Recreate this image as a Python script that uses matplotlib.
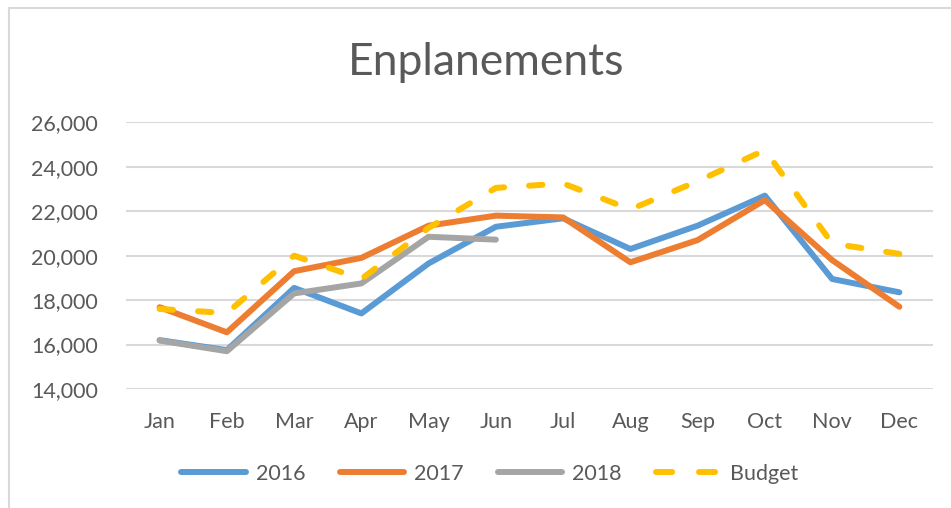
import matplotlib
matplotlib.use("Agg")
import matplotlib.pyplot as plt
import numpy as np
from matplotlib.lines import Line2D
from matplotlib.patches import Rectangle
from matplotlib.ticker import FuncFormatter

months = ["Jan", "Feb", "Mar", "Apr", "May", "Jun", "Jul", "Aug", "Sep", "Oct", "Nov", "Dec"]
s2016 = [16200, 15750, 18550, 17400, 19650, 21300, 21680, 20300, 21350, 22700, 18950, 18350]
s2017 = [17680, 16550, 19300, 19900, 21350, 21800, 21720, 19700, 20700, 22500, 19800, 17700]
s2018 = [16180, 15700, 18300, 18750, 20850, 20720]
budget = [17600, 17420, 20000, 18950, 21250, 23050, 23250, 22080, 23350, 24750, 20550, 20080]

W, H = 951, 508
DPI = 100
plt.rcParams['font.family'] = ['Lato', 'DejaVu Sans']
text_c = "#595959"

fig = plt.figure(figsize=(W/DPI, H/DPI), dpi=DPI)
ax = fig.add_axes([126/W, 1-389/H, (933-126)/W, (389-122.3)/H])

x = list(range(len(months)))
ax.set_xlim(-0.5, 11.5)
ax.set_ylim(14000, 26000)

lw = 4.3
# fit the dash period so the budget line starts and ends with a dash
pts = ax.transData.transform(np.column_stack([x, budget]))
L_px = np.sum(np.hypot(*np.diff(pts, axis=0).T))
L_u = L_px * 72 / DPI / lw
on = 2.25
n = max(1, round((L_u - on) / 6.55))
off = (L_u - on) / n - on

ax.plot(x, s2016, color="#5B9BD5", lw=lw, solid_capstyle="round", solid_joinstyle="round", label="2016", zorder=3)
ax.plot(x, s2017, color="#ED7D31", lw=lw, solid_capstyle="round", solid_joinstyle="round", label="2017", zorder=4)
ax.plot(x[:len(s2018)], s2018, color="#A5A5A5", lw=lw, solid_capstyle="round", solid_joinstyle="round", label="2018", zorder=5)
ax.plot(x, budget, color="#FFC000", lw=lw, dashes=(on, off), dash_capstyle="round", label="Budget", zorder=6)

ax.set_yticks(range(14000, 26001, 2000))
ax.yaxis.set_major_formatter(FuncFormatter(lambda v, p: f"{int(v):,}"))
ax.set_xticks(x)
ax.set_xticklabels(months)
ax.grid(axis="y", color="#D9D9D9", lw=1.5)
ax.set_axisbelow(True)
for s in ax.spines.values():
    s.set_visible(False)
ax.tick_params(axis="both", length=0, labelsize=15.5, colors=text_c)
ax.tick_params(axis="y", pad=20)
ax.tick_params(axis="x", pad=16.5)

fig.text(486/W, 1-75/H, "Enplanements", ha="center", va="baseline", fontsize=32, color=text_c)

handles = [Line2D([], [], color="#5B9BD5", lw=lw, solid_capstyle="round"),
           Line2D([], [], color="#ED7D31", lw=lw, solid_capstyle="round"),
           Line2D([], [], color="#A5A5A5", lw=lw, solid_capstyle="round"),
           Line2D([], [], color="#FFC000", lw=lw, dashes=(2.7, 4.5), dash_capstyle="round")]
leg = fig.legend(handles, ["2016", "2017", "2018", "Budget"], loc="center",
                 bbox_to_anchor=(490/W, 1-474/H), ncol=4, frameon=False,
                 fontsize=15.5, handlelength=3.0, handletextpad=0.45, columnspacing=1.6)
for t in leg.get_texts():
    t.set_color(text_c)

fig.patches.append(Rectangle((8.5/W, -0.1), 1.2, 1.1 - 8.5/H, transform=fig.transFigure,
                             fill=False, edgecolor="#D9D9D9", lw=1.5))

fig.savefig("out.png", dpi=DPI)
